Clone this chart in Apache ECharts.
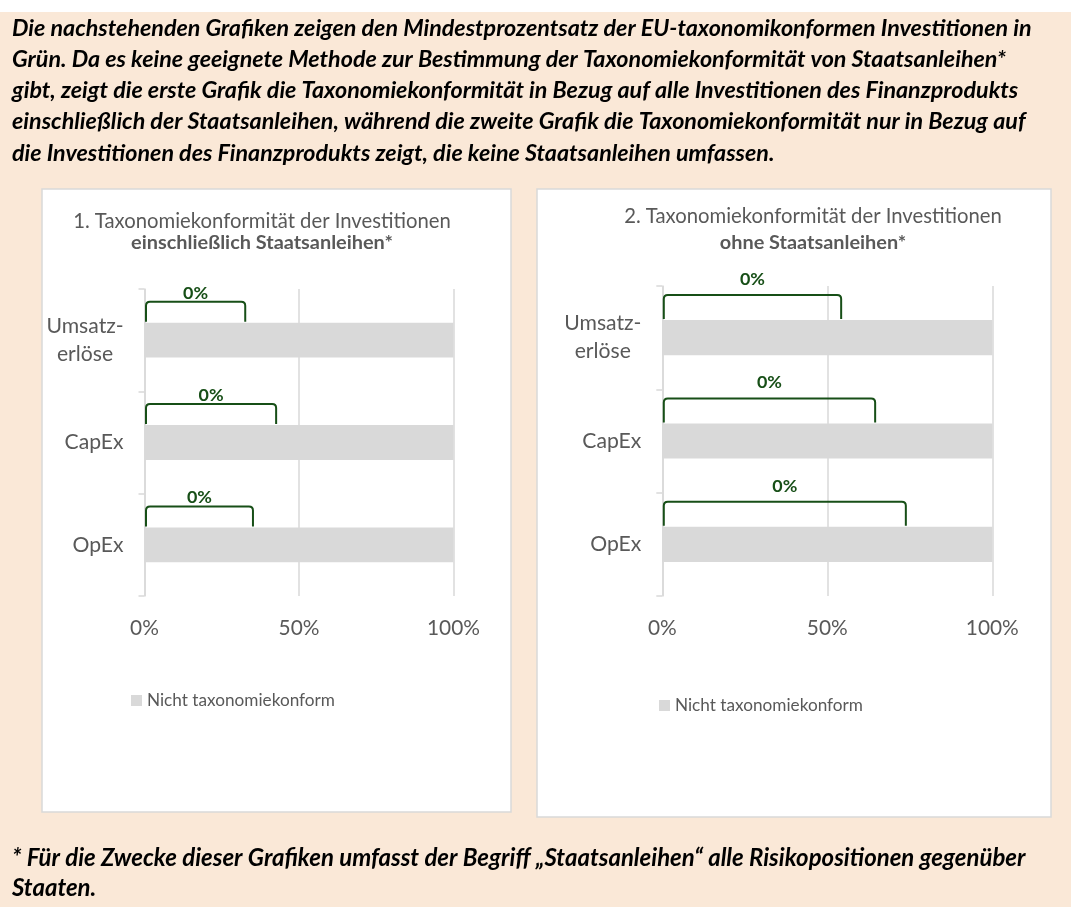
<!DOCTYPE html>
<html>
<head>
<meta charset="utf-8">
<script src="https://cdn.jsdelivr.net/npm/echarts@6/dist/echarts.min.js"></script>
<style>
  html, body { margin: 0; padding: 0; background: #ffffff; }
  #chart { width: 1071px; height: 907px; }
</style>
</head>
<body>
<div id="chart"></div>
<script>
// ---- data ----
const categories = ['Umsatz-\nerlöse', 'CapEx', 'OpEx'];
const xTickLabels = ['0%', '50%', '100%'];
const seriesAlignedName = 'Taxonomiekonform';
const seriesNotAlignedName = 'Nicht taxonomiekonform';

// Chart 1: incl. sovereign bonds
const alignedIncl = [0, 0, 0];
const notAlignedIncl = [100, 100, 100];
const bracketEndIncl = [32.6, 42.6, 35.1];

// Chart 2: excl. sovereign bonds
const alignedExcl = [0, 0, 0];
const notAlignedExcl = [100, 100, 100];
const bracketEndExcl = [54.2, 64.5, 73.8];

const headerLines = [
  'Die nachstehenden Grafiken zeigen den Mindestprozentsatz der EU-taxonomikonformen Investitionen in',
  'Grün. Da es keine geeignete Methode zur Bestimmung der Taxonomiekonformität von Staatsanleihen*',
  'gibt, zeigt die erste Grafik die Taxonomiekonformität in Bezug auf alle Investitionen des Finanzprodukts',
  'einschließlich der Staatsanleihen, während die zweite Grafik die Taxonomiekonformität nur in Bezug auf',
  'die Investitionen des Finanzprodukts zeigt, die keine Staatsanleihen umfassen.'
];
const footnoteLines = [
  '* Für die Zwecke dieser Grafiken umfasst der Begriff „Staatsanleihen“ alle Risikopositionen gegenüber',
  'Staaten.'
];
const title1 = ['1. Taxonomiekonformität der Investitionen', 'einschließlich Staatsanleihen*'];
const title2 = ['2. Taxonomiekonformität der Investitionen', 'ohne Staatsanleihen*'];

// ---- styling helpers ----
const FONT = 'Lato, "Open Sans", "Noto Sans", sans-serif';
const GRAY_TEXT = '#595959';
const GRAY_BAR = '#d9d9d9';
const GREEN = '#174f17';
const PEACH = '#fae8d7';

const measureCtx = document.createElement('canvas').getContext('2d');
function textWidth(text, size, weight, style) {
  measureCtx.font = `${style || 'normal'} ${weight || 'normal'} ${size}px ${FONT}`;
  return measureCtx.measureText(text).width;
}
function fitSize(text, width, weight, style) {
  return 100 * width / textWidth(text, 100, weight, style);
}

const headerSize = fitSize(headerLines[0], 1020, 'bold', 'italic');
const footSize = fitSize(footnoteLines[0], 1014, 'bold', 'italic');
const titleSize = fitSize(title1[0], 378);
const titleBoldSize = fitSize(title1[1], 262, 'bold');
const legendSize = fitSize(seriesNotAlignedName, 188);
const catSize = fitSize('CapEx', 59);
const tickSize = fitSize('100%', 53);
const valueLabelSize = fitSize('0%', 25, 'bold');
const secondLinePad = (textWidth('Umsatz-', catSize) - textWidth('erlöse', catSize)) / 2;

// ---- page furniture ----
const graphics = [];
graphics.push({ type: 'rect', z: -20, silent: true, shape: { x: 0, y: 12, width: 1071, height: 895 }, style: { fill: PEACH } });
graphics.push({ type: 'rect', z: -10, silent: true, shape: { x: 42, y: 189, width: 469, height: 623 }, style: { fill: '#ffffff', stroke: GRAY_BAR, lineWidth: 1.5 } });
graphics.push({ type: 'rect', z: -10, silent: true, shape: { x: 537, y: 189, width: 514, height: 628 }, style: { fill: '#ffffff', stroke: GRAY_BAR, lineWidth: 1.5 } });

headerLines.forEach((line, i) => {
  graphics.push({ type: 'text', x: 12, y: 28 + i * 31.3, silent: true,
    style: { text: line, fill: '#000', fontFamily: FONT, fontSize: headerSize, fontWeight: 'bold', fontStyle: 'italic', align: 'left', verticalAlign: 'middle' } });
});
footnoteLines.forEach((line, i) => {
  graphics.push({ type: 'text', x: 12, y: 858 + i * 30, silent: true,
    style: { text: line, fill: '#000', fontFamily: FONT, fontSize: footSize, fontWeight: 'bold', fontStyle: 'italic', align: 'left', verticalAlign: 'middle' } });
});
[[title1, 262, 221], [title2, 813, 216]].forEach(([t, cx, y1]) => {
  graphics.push({ type: 'text', x: cx, y: y1, silent: true,
    style: { text: t[0], fill: GRAY_TEXT, fontFamily: FONT, fontSize: titleSize, align: 'center', verticalAlign: 'middle' } });
  graphics.push({ type: 'text', x: cx, y: 243, silent: true,
    style: { text: t[1], fill: GRAY_TEXT, fontFamily: FONT, fontSize: titleBoldSize, fontWeight: 'bold', align: 'center', verticalAlign: 'middle' } });
});

// ---- axes ----
function xAxisFor(gridIndex) {
  return {
    type: 'value', gridIndex, min: 0, max: 100, interval: 50,
    axisLine: { show: false }, axisTick: { show: false },
    splitLine: { show: true, lineStyle: { color: GRAY_BAR, width: 1.5 } },
    axisLabel: { margin: 22, color: GRAY_TEXT, fontFamily: FONT, fontSize: tickSize,
      formatter: v => xTickLabels[Math.round(v / 50)] }
  };
}
function yAxisFor(gridIndex) {
  return {
    type: 'category', gridIndex, data: categories, inverse: true,
    axisLine: { show: true, lineStyle: { color: GRAY_BAR, width: 1.5 } },
    axisTick: { show: true, length: 6, lineStyle: { color: GRAY_BAR, width: 1.5 } },
    axisLabel: {
      margin: 21, align: 'right',
      formatter: v => v.split('\n').map((s, i) => (i === 0 ? `{a|${s}}` : `{b|${s}}`)).join('\n'),
      rich: {
        a: { color: GRAY_TEXT, fontFamily: FONT, fontSize: catSize, lineHeight: 28 },
        b: { color: GRAY_TEXT, fontFamily: FONT, fontSize: catSize, lineHeight: 28, padding: [0, secondLinePad, 0, 0] }
      }
    }
  };
}

// ---- bracket annotation above each bar, labelled with the aligned share ----
function bracketSeries(idx, ends, aligned, lift, labelGap) {
  return {
    type: 'custom', name: 'bracket' + idx, xAxisIndex: idx, yAxisIndex: idx, z: 5, silent: true,
    encode: { x: 1, y: 0 },
    data: ends.map((e, i) => [i, e, aligned[i]]),
    renderItem: (params, api) => {
      const cat = api.value(0);
      const p0 = api.coord([0, cat]);
      const p1 = api.coord([api.value(1), cat]);
      const band = api.size([0, 1])[1];
      const barTop = p0[1] - band * 0.34 / 2;
      const y = barTop - lift;
      const x0 = p0[0] + 1.5, x1 = p1[0], r = 4;
      return {
        type: 'group',
        children: [
          { type: 'path',
            shape: { pathData: `M${x0},${barTop - 1} L${x0},${y + r} Q${x0},${y} ${x0 + r},${y} L${x1 - r},${y} Q${x1},${y} ${x1},${y + r} L${x1},${barTop - 1}` },
            style: { fill: null, stroke: GREEN, lineWidth: 2 } },
          { type: 'text', x: (x0 + x1) / 2, y: y - labelGap,
            style: { text: api.value(2) + '%', fill: GREEN, fontFamily: FONT, fontWeight: 'bold', fontSize: valueLabelSize, align: 'center', verticalAlign: 'middle' } }
        ]
      };
    }
  };
}

function barPair(idx, aligned, notAligned) {
  return [
    { type: 'bar', name: seriesAlignedName, xAxisIndex: idx, yAxisIndex: idx, stack: 's' + idx,
      barWidth: '34%', data: aligned, itemStyle: { color: '#92d050' } },
    { type: 'bar', name: seriesNotAlignedName, xAxisIndex: idx, yAxisIndex: idx, stack: 's' + idx,
      barWidth: '34%', data: notAligned, itemStyle: { color: GRAY_BAR } }
  ];
}

function legendAt(left, top) {
  return {
    data: [seriesNotAlignedName], left, top, padding: 0, selectedMode: false,
    icon: 'rect', itemWidth: 11, itemHeight: 11, itemGap: 0,
    textStyle: { color: GRAY_TEXT, fontFamily: FONT, fontSize: legendSize, padding: [0, 0, 0, 0] }
  };
}

const option = {
  animation: false,
  backgroundColor: 'transparent',
  graphic: { elements: graphics },
  grid: [
    { left: 144.5, top: 289, width: 309, height: 307, containLabel: false },
    { left: 662.3, top: 286, width: 330, height: 310, containLabel: false }
  ],
  xAxis: [xAxisFor(0), xAxisFor(1)],
  yAxis: [yAxisFor(0), yAxisFor(1)],
  legend: [legendAt(131, 692), legendAt(659, 697)],
  tooltip: { show: false },
  series: [
    ...barPair(0, alignedIncl, notAlignedIncl),
    ...barPair(1, alignedExcl, notAlignedExcl),
    bracketSeries(0, bracketEndIncl, alignedIncl, 21, 9),
    bracketSeries(1, bracketEndExcl, alignedExcl, 25, 16)
  ]
};

const chart = echarts.init(document.getElementById('chart'), null, { renderer: 'canvas' });
chart.setOption(option);
</script>
</body>
</html>
